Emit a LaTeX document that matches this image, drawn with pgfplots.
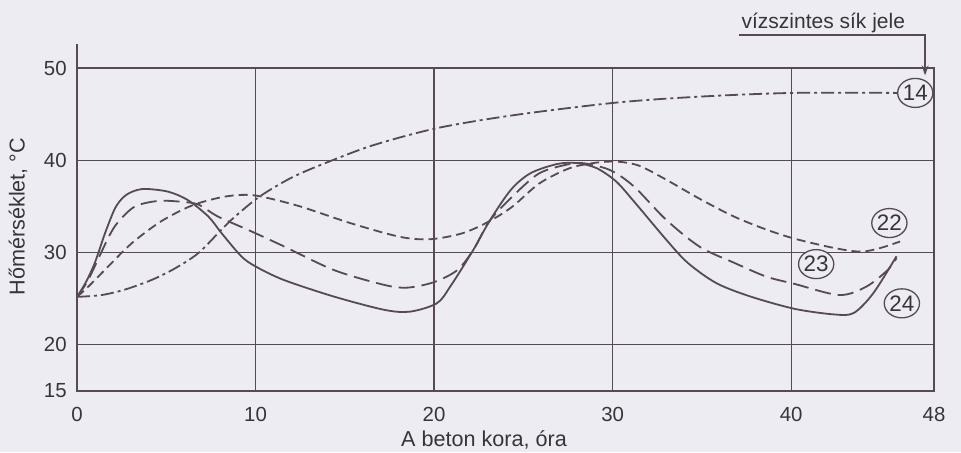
\documentclass[border=0pt]{standalone}
\usepackage{fontspec}
\setmainfont{Liberation Sans}
\usepackage{pgfplots}
\pgfplotsset{compat=1.18}
\usetikzlibrary{arrows.meta,shapes.geometric}
\definecolor{bgc}{RGB}{236,236,242}
\definecolor{linec}{RGB}{88,74,84}
\definecolor{txtc}{RGB}{55,53,58}
\tikzset{circlab/.style={draw=linec, line width=0.65pt, fill=bgc, ellipse, text=txtc,
  font=\fontsize{11.2}{12}\selectfont, inner sep=0pt, minimum width=17pt, minimum height=14.5pt}}
\begin{document}
\begin{tikzpicture}
\fill[bgc] (0,0) rectangle (480.5pt,226pt);
\useasboundingbox (0,0) rectangle (480.5pt,226pt);
\begin{axis}[
  at={(38.5pt,30.5pt)}, anchor=south west,
  scale only axis, width=428.5pt, height=161.5pt,
  xmin=0, xmax=48, ymin=15, ymax=50,
  xtick={0,10,20,30,40,48}, ytick={15,20,30,40,50},
  major tick length=0pt,
  grid=major,
  grid style={linec, line width=0.6pt},
  axis line style={linec, line width=0.75pt},
  /pgf/number format/assume math mode=true,
  ticklabel style={font=\fontsize{10.2}{12}\selectfont, text=txtc},
  yticklabel style={anchor=east, inner sep=0pt, xshift=-5pt},
  xticklabel style={anchor=north, inner sep=0pt, yshift=-8pt},
  clip=false,
]
% 24 solid
\addplot[linec, line width=0.9pt, smooth] coordinates {
(0,25.2) (0.5,26.8) (1.0,28.9) (1.57,32.1) (2.13,34.8) (2.6,36.0) (3.1,36.6) (3.8,36.9) (5.1,36.6)
(6.2,35.7) (7.36,33.9) (8.1,32.1) (9.2,29.6) (10.0,28.5) (11.56,27.05)
(14.36,25.25) (17.2,23.8) (18.65,23.6) (20.15,24.5) (20.9,26.3) (22.2,30.3)
(23.1,33.4) (24.3,36.8) (25.4,38.6) (26.9,39.6) (28.0,39.7) (29.1,39.15)
(30.2,37.7) (31.3,35.3) (33.0,31.4) (34.2,28.9) (35.8,26.7) (37.7,25.25)
(40.2,23.9) (42.4,23.3) (43.5,23.45) (44.6,25.6) (45.9,29.6)};
% 23 long dashed
\addplot[linec, line width=0.9pt, smooth, dash pattern=on 8pt off 3.5pt] coordinates {
(0,25.2) (0.63,27.05) (1.75,31.6) (2.3,33.3) (3.25,35.0) (4.56,35.6) (5.86,35.5)
(6.8,35.2) (7.9,33.9) (9.65,32.4) (11.56,30.7) (14.4,28.1) (17.2,26.5)
(18.5,26.2) (20.0,26.8) (21.3,28.1) (22.2,30.3) (23.1,33.4) (24.4,36.1)
(25.9,38.6) (27.6,39.6) (28.5,39.65) (29.9,38.9) (31.2,37.15) (33.0,33.55)
(34.9,30.6) (36.8,28.9) (38.6,27.4) (40.2,26.6) (42.7,25.4) (44.2,26.3)
(45.4,28.1) (45.9,29.4)};
% 22 short dashed
\addplot[linec, line width=0.9pt, smooth, dash pattern=on 4.5pt off 2.5pt] coordinates {
(0,25.2) (0.63,26.3) (1.75,28.5) (3.06,31.0) (4.56,33.2) (5.86,34.6) (6.8,35.35)
(8.1,36.0) (9.2,36.25) (10.25,36.1) (12.5,35.0) (15.3,33.2) (18.1,31.7)
(19.8,31.45) (21.6,32.1) (23.1,33.4) (24.4,35.0) (25.9,37.5) (27.6,39.15)
(29.1,39.75) (30.3,39.85) (31.5,39.4) (33.0,37.9) (34.9,35.8) (36.8,33.9)
(38.6,32.5) (40.2,31.5) (42.4,30.5) (43.9,30.1) (45.0,30.5) (46.1,31.2)};
% 14 dash-dot
\addplot[linec, line width=0.9pt, smooth, dash pattern=on 6.5pt off 2pt on 1.5pt off 2pt] coordinates {
(0,25.2) (1.38,25.4) (2.7,26.0) (4.2,27.05) (5.5,28.3) (6.8,29.95) (8.1,32.5)
(8.85,33.9) (10.25,36.1) (12.1,38.2) (14.3,40.0) (16.7,41.7) (20.2,43.5)
(24.5,44.9) (30.2,46.25) (34.9,46.9) (40.1,47.3) (46.0,47.3)};

% axis extension
\draw[linec, line width=0.75pt] (axis cs:0,50) -- (axis cs:0,52.6);
% annotation arrow
\draw[linec, line width=0.7pt, -{Stealth[length=5pt,width=3.5pt]}]
  (axis cs:37.1,53.57) -- (axis cs:47.5,53.57) -- (axis cs:47.5,49.2);
\node[anchor=base, text=txtc, font=\fontsize{10.5}{12}\selectfont] at (axis cs:41.8,54.3) {vízszintes sík jele};

% circled labels
\node[circlab] at (axis cs:46.95,47.3) {14};
\node[circlab] at (axis cs:45.5,33.2) {22};
\node[circlab] at (axis cs:41.4,28.75) {23};
\node[circlab] at (axis cs:46.2,24.5) {24};

% axis labels
\node[text=txtc, font=\fontsize{10.8}{12}\selectfont] at (axis cs:22.8,9.7) {A beton kora, óra};
\node[text=txtc, font=\fontsize{10.8}{12}\selectfont, rotate=90] at (axis cs:-3.3,33.9) {Hőmérséklet, °C};
\end{axis}
\end{tikzpicture}
\end{document}
